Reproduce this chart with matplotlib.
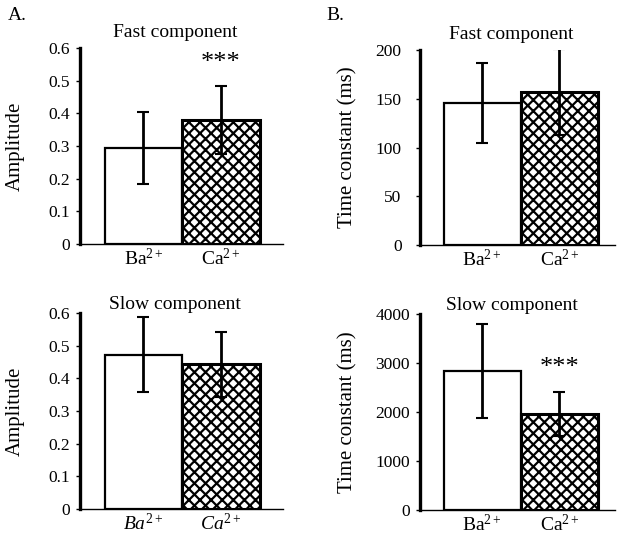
import numpy as np
import matplotlib
matplotlib.use('Agg')
import matplotlib.pyplot as plt

plt.rcParams['font.family'] = ['Liberation Serif', 'DejaVu Serif']
plt.rcParams['mathtext.fontset'] = 'custom'
plt.rcParams['mathtext.rm'] = 'Liberation Serif'
plt.rcParams['mathtext.it'] = 'Liberation Serif:italic'
plt.rcParams['hatch.linewidth'] = 1.6

# ---------------------------------------------------------------------------
# data
ions = ['Ba', 'Ca']

amp_fast = [0.295, 0.38]
amp_fast_err = [0.11, 0.105]

amp_slow = [0.472, 0.443]
amp_slow_err = [0.115, 0.10]

tau_fast = [146, 157]
tau_fast_err = [41, 44]

tau_slow = [2840, 1970]
tau_slow_err = [955, 450]

amp_ticks = [0, 0.1, 0.2, 0.3, 0.4, 0.5, 0.6]
amp_ticklabels = ['0', '0.1', '0.2', '0.3', '0.4', '0.5', '0.6']
tau_fast_ticks = [0, 50, 100, 150, 200]
tau_slow_ticks = [0, 1000, 2000, 3000, 4000]

# ---------------------------------------------------------------------------
fig = plt.figure(figsize=(6.2, 5.44), dpi=100)

def draw_panel(rect, vals, errs, title, ylabel, ylim, yticks, yticklabels,
               xlim, italic=False, star=None, title_pad=8):
    ax = fig.add_axes(rect)
    x = np.arange(len(vals))
    ax.bar(x[0], vals[0], width=1.0, color='white', edgecolor='black',
           linewidth=1.6, zorder=2)
    ax.bar(x[1], vals[1], width=1.0, color='white', edgecolor='black',
           linewidth=2.2, hatch='xxx', zorder=2)
    ax.errorbar(x, vals, yerr=errs, fmt='none', ecolor='black',
                elinewidth=2, capsize=4, capthick=1.5, zorder=3)
    if star is not None:
        ax.text(x[1], star, '***', ha='center', va='center', fontsize=19)
    ax.set_xlim(*xlim)
    ax.set_ylim(*ylim)
    ax.set_yticks(yticks)
    ax.set_yticklabels(yticklabels)
    ax.set_xticks(x)
    if italic:
        ax.set_xticklabels([r'$\mathit{%s}^{\mathrm{2+}}$' % s for s in ions])
    else:
        ax.set_xticklabels([r'$\mathrm{%s}^{\mathrm{2+}}$' % s for s in ions])
    ax.tick_params(axis='x', length=0, pad=3, labelsize=14)
    ax.tick_params(axis='y', length=3, width=1, direction='out', pad=4,
                   labelsize=12.5)
    for s in ['top', 'right']:
        ax.spines[s].set_visible(False)
    ax.spines['left'].set_linewidth(2.4)
    ax.spines['bottom'].set_linewidth(1.0)
    ax.set_title(title, fontsize=14, x=0.47, pad=title_pad)
    ax.set_ylabel(ylabel, fontsize=15)
    return ax

ax1 = draw_panel([0.129, 0.5515, 0.327, 0.360], amp_fast, amp_fast_err,
                 'Fast component', 'Amplitude', (0, 0.6), amp_ticks,
                 amp_ticklabels, (-0.82, 1.8), star=0.554)
ax1.yaxis.set_label_coords(-0.27, 0.5)

ax2 = draw_panel([0.129, 0.0643, 0.327, 0.360], amp_slow, amp_slow_err,
                 'Slow component', 'Amplitude', (0, 0.6), amp_ticks,
                 amp_ticklabels, (-0.82, 1.8), italic=True, title_pad=2)
ax2.yaxis.set_label_coords(-0.27, 0.5)

ax3 = draw_panel([0.677, 0.5496, 0.315, 0.358], tau_fast, tau_fast_err,
                 'Fast component', 'Time constant (ms)', (0, 200),
                 tau_fast_ticks, [str(t) for t in tau_fast_ticks],
                 (-0.81, 1.72))
ax3.tick_params(axis='y', pad=10)
ax3.yaxis.set_label_coords(-0.32, 0.5)

ax4 = draw_panel([0.677, 0.0625, 0.315, 0.360], tau_slow, tau_slow_err,
                 'Slow component', 'Time constant (ms)', (0, 4000),
                 tau_slow_ticks, [str(t) for t in tau_slow_ticks],
                 (-0.81, 1.72), star=2900, title_pad=2)
ax4.yaxis.set_label_coords(-0.32, 0.5)

fig.text(0.012, 0.972, 'A.', fontsize=14, va='center', ha='left')
fig.text(0.527, 0.972, 'B.', fontsize=14, va='center', ha='left')

fig.savefig('out.png', dpi=100)
